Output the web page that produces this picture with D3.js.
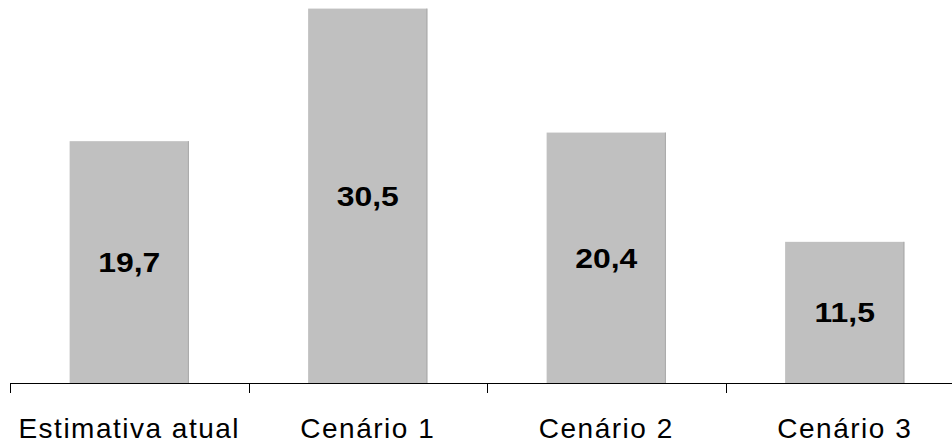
<!DOCTYPE html>
<html>
<head>
<meta charset="utf-8">
<script src="https://cdn.jsdelivr.net/npm/d3@7"></script>
<style>
  html, body { margin: 0; padding: 0; background: #fff; }
  svg { display: block; }
  text { font-family: "Liberation Sans", Arial, sans-serif; fill: #000; }
</style>
</head>
<body>
<svg id="chart" width="952" height="442"></svg>
<script>
// Scenario names and estimated values
const categories = ["Estimativa atual", "Cenário 1", "Cenário 2", "Cenário 3"];
const values = [19.7, 30.5, 20.4, 11.5];
const valueLabels = ["19,7", "30,5", "20,4", "11,5"];

const W = 952, H = 442;
const baseY = 383;
const svg = d3.select("#chart");

const x = d3.scaleBand()
  .domain(categories)
  .range([10, 964])
  .paddingInner(0.5)
  .paddingOuter(0.25);

const y = d3.scaleLinear()
  .domain([0, 31.2])
  .range([baseY, 0]);

const data = categories.map((c, i) => ({ c, v: values[i], label: valueLabels[i] }));

// Bars
const bars = svg.append("g");
bars.selectAll("rect")
  .data(data)
  .join("rect")
  .attr("x", d => x(d.c))
  .attr("y", d => y(d.v))
  .attr("width", x.bandwidth())
  .attr("height", d => baseY - y(d.v))
  .attr("fill", "#c0c0c0");

// Darker right edge on each bar
bars.selectAll("line")
  .data(data)
  .join("line")
  .attr("x1", d => x(d.c) + x.bandwidth() - 0.5)
  .attr("x2", d => x(d.c) + x.bandwidth() - 0.5)
  .attr("y1", d => y(d.v))
  .attr("y2", baseY)
  .attr("stroke", "#a9a9a9")
  .attr("stroke-width", 1);

// Value labels, centred inside bars
svg.append("g").selectAll("text")
  .data(data)
  .join("text")
  .attr("transform", d => {
    const cx = x(d.c) + x.bandwidth() / 2;
    const cy = (y(d.v) + baseY) / 2 + 10;
    return `translate(${cx},${cy}) scale(1.14,1)`;
  })
  .attr("text-anchor", "middle")
  .style("font-size", "28px")
  .style("font-weight", "bold")
  .text(d => d.label);

// Category axis: ticks at band boundaries
const axis = svg.append("g");
axis.append("line")
  .attr("x1", 10).attr("x2", W)
  .attr("y1", baseY + 0.5).attr("y2", baseY + 0.5)
  .attr("stroke", "#000").attr("stroke-width", 1);

const step = x.step();
const boundaries = d3.range(categories.length + 1).map(i => 10 + i * step);
axis.selectAll("line.tick")
  .data(boundaries)
  .join("line")
  .attr("class", "tick")
  .attr("x1", d => Math.round(d) + 0.5)
  .attr("x2", d => Math.round(d) + 0.5)
  .attr("y1", baseY)
  .attr("y2", baseY + 10)
  .attr("stroke", "#000").attr("stroke-width", 1);

axis.selectAll("text")
  .data(categories)
  .join("text")
  .attr("x", d => x(d) + x.bandwidth() / 2)
  .attr("y", 437.5)
  .attr("text-anchor", "middle")
  .style("font-size", "28px")
  .style("letter-spacing", "1.5px")
  .text(d => d);
</script>
</body>
</html>
